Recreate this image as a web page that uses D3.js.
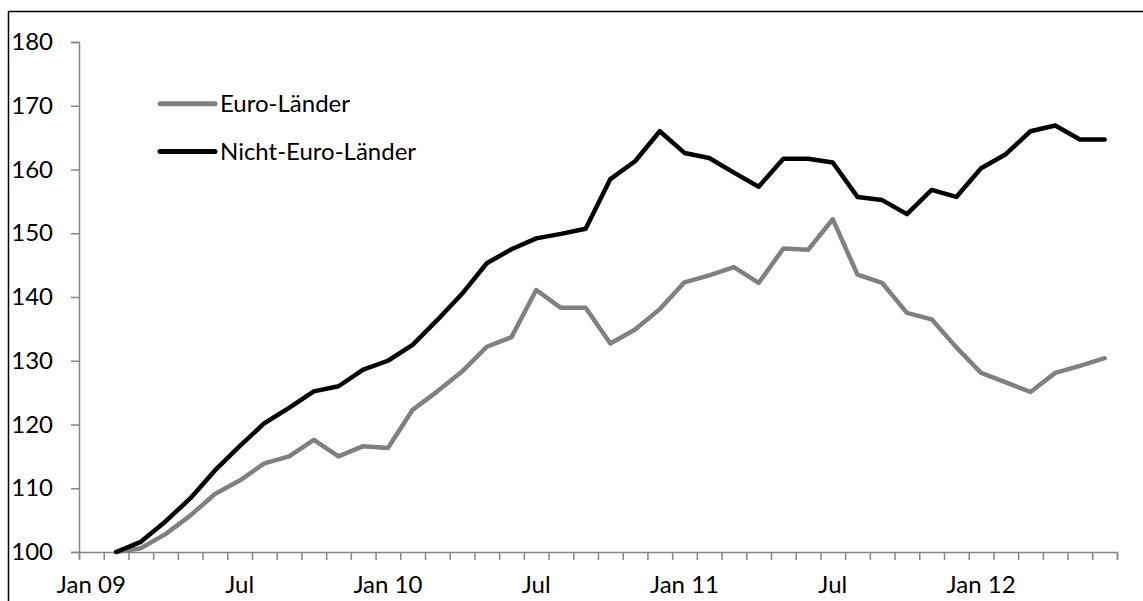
<!DOCTYPE html>
<html>
<head>
<meta charset="utf-8">
<script src="https://cdn.jsdelivr.net/npm/d3@7"></script>
<style>
	body { margin: 0; background: #fff; }
	text { font-family: Lato, "Open Sans", sans-serif; }
</style>
</head>
<body>
<div id="chart"></div>
<script>
var months = ["Jan 09","Feb 09","Mar 09","Apr 09","May 09","Jun 09","Jul 09","Aug 09","Sep 09","Oct 09","Nov 09","Dec 09",
	"Jan 10","Feb 10","Mar 10","Apr 10","May 10","Jun 10","Jul 10","Aug 10","Sep 10","Oct 10","Nov 10","Dec 10",
	"Jan 11","Feb 11","Mar 11","Apr 11","May 11","Jun 11","Jul 11","Aug 11","Sep 11","Oct 11","Nov 11","Dec 11",
	"Jan 12","Feb 12","Mar 12","Apr 12","May 12","Jun 12"]

// shown labels on the category axis
var tickLabels = {"Jan 09": "Jan 09", "Jul 09": "Jul", "Jan 10": "Jan 10", "Jul 10": "Jul",
	"Jan 11": "Jan 11", "Jul 11": "Jul", "Jan 12": "Jan 12"}

var euro = [null, 100, 100.6, 102.8, 105.7, 109.1, 111.2, 113.9, 115.0, 117.6, 115.0, 116.6,
	116.3, 122.3, 125.2, 128.3, 132.2, 133.7, 141.1, 138.3, 138.3, 132.7, 134.9, 138.1,
	142.3, 143.4, 144.7, 142.2, 147.6, 147.4, 152.2, 143.5, 142.2, 137.5, 136.5, 132.1,
	128.1, 126.6, 125.1, 128.1, 129.2, 130.4]

var nichtEuro = [null, 100, 101.6, 104.8, 108.4, 112.8, 116.6, 120.2, 122.6, 125.2, 126.0, 128.6,
	130.0, 132.5, 136.4, 140.5, 145.3, 147.5, 149.2, 149.9, 150.7, 158.5, 161.3, 166.0,
	162.6, 161.8, 159.5, 157.3, 161.7, 161.7, 161.1, 155.7, 155.2, 153.0, 156.8, 155.7,
	160.2, 162.4, 166.0, 166.9, 164.7, 164.7]

var yTicks = [100, 110, 120, 130, 140, 150, 160, 170, 180]

var seriesNames = ["Euro-Länder", "Nicht-Euro-Länder"]
var seriesColors = ["#808080", "#000000"]

var width = 1143,
	height = 601,
	margin = {top: 42, right: 26, bottom: 49, left: 79}

var svg = d3.select("#chart")
	.append("svg")
	.attr("width", width)
	.attr("height", height)

// outer frame, cut off at the right and bottom
svg.append("rect")
	.attr("x", 8.5)
	.attr("y", 11.5)
	.attr("width", width + 50)
	.attr("height", height + 50)
	.attr("fill", "none")
	.attr("stroke", "#000")
	.attr("stroke-width", 1.5)

var x = d3.scaleBand()
	.domain(months)
	.range([margin.left, width - margin.right])
	.padding(0)

// boundaries between categories, for the tick marks
var xEdge = d3.scaleLinear()
	.domain([0, months.length])
	.range([margin.left, width - margin.right])

var y = d3.scaleLinear()
	.domain([100, 180])
	.range([height - margin.bottom, margin.top])

var fontSize = 24

var yAxis = svg.append("g")
	.attr("transform", "translate(" + margin.left + ",0)")
	.call(d3.axisLeft(y).tickValues(yTicks).tickSize(8).tickPadding(18).tickFormat(d3.format("d")))

var xTicks = svg.append("g")
	.attr("transform", "translate(0," + y(100) + ")")
	.call(d3.axisBottom(xEdge).tickValues(d3.range(months.length + 1)).tickSize(8).tickFormat(""))

var xAxis = svg.append("g")
	.attr("transform", "translate(0," + y(100) + ")")
	.call(d3.axisBottom(x)
		.tickValues(months.filter(function(m) { return tickLabels[m] }))
		.tickSize(0)
		.tickPadding(24)
		.tickFormat(function(m) { return tickLabels[m] }))

xAxis.select(".domain").remove()

svg.selectAll(".domain, .tick line")
	.attr("stroke", "#868686")
	.attr("stroke-width", 1.5)

svg.selectAll(".tick text")
	.attr("font-size", fontSize)
	.attr("font-family", "Lato, 'Open Sans', sans-serif")
	.attr("fill", "#000")

var line = d3.line()
	.defined(function(d) { return d != null })
	.x(function(d, i) { return x(months[i]) + x.bandwidth() / 2 })
	.y(function(d) { return y(d) })

svg.selectAll(".series")
	.data([euro, nichtEuro])
	.enter().append("path")
	.attr("class", "series")
	.attr("d", line)
	.attr("fill", "none")
	.attr("stroke", function(d, i) { return seriesColors[i] })
	.attr("stroke-width", 4.5)
	.attr("stroke-linejoin", "round")
	.attr("stroke-linecap", "round")

var legend = svg.selectAll(".legend")
	.data(seriesNames)
	.enter().append("g")
	.attr("class", "legend")
	.attr("transform", function(d, i) {
		return "translate(160," + (y(170) - 2 + i * (y(160) - y(170)) * 0.75) + ")"
	})

legend.append("line")
	.attr("x1", 0)
	.attr("x2", 55)
	.attr("stroke", function(d, i) { return seriesColors[i] })
	.attr("stroke-width", 5)
	.attr("stroke-linecap", "round")

legend.append("text")
	.attr("x", 60)
	.attr("dy", "0.35em")
	.attr("font-size", fontSize)
	.text(function(d) { return d })
</script>
</body>
</html>
